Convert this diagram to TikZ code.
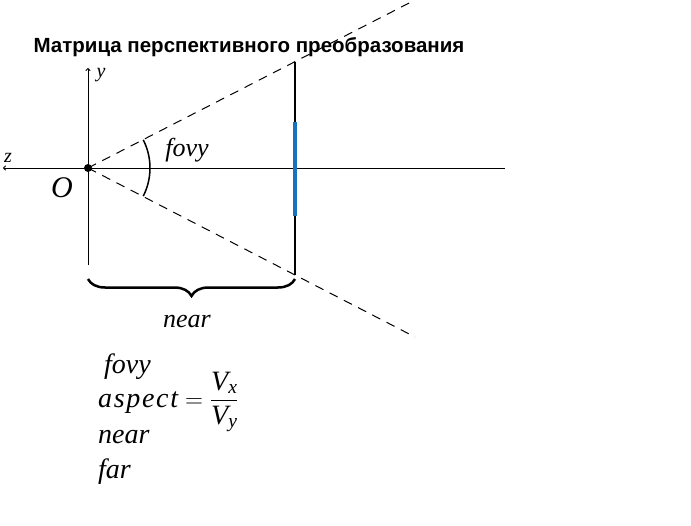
\documentclass[tikz,border=0pt]{standalone}
\usepackage{amsmath}
\usepackage{fontspec}
\setmainfont{Liberation Serif}
\newfontfamily\titlefont{Liberation Sans}
\usetikzlibrary{arrows.meta,decorations.pathreplacing}
\definecolor{blu}{RGB}{24,114,190}
\tikzstyle{ray}=[dash pattern=on 9pt off 7pt, line width=1pt]
\tikzstyle{axis}=[line width=0.9pt, -{To[length=3pt,width=5pt]}]
\tikzstyle{lbl}=[inner sep=0pt, font=\itshape\fontsize{26}{30}\selectfont]
\tikzstyle{param}=[inner sep=0pt, anchor=west, font=\itshape\fontsize{28}{32}\selectfont]
\tikzstyle{small lbl}=[inner sep=0pt, font=\itshape\fontsize{20}{24}\selectfont]

\begin{document}
\begin{tikzpicture}[x=1pt,y=1pt]
\useasboundingbox (-88,-357) rectangle (603,168);
\node[font=\titlefont\bfseries\fontsize{20.5}{24}\selectfont] (title) at (161,121) {Матрица перспективного преобразования};
\node[circle, fill, inner sep=0pt, minimum size=8pt] (O) at (0,0) {};
\coordinate (zl) at (-85,0);
\coordinate (zr) at (417,0);
\coordinate (yb) at (0,-97);
\coordinate (yt) at (0,100);
\coordinate (up) at (327,168);
\coordinate (dn) at (327,-169);
\coordinate (nt) at (207,106);
\coordinate (nb) at (207,-107);
\coordinate (bt) at (207,46);
\coordinate (bb) at (207,-48);
\coordinate (bl) at (0,-111);
\coordinate (br) at (207,-111);
% axes and frustum
\draw[axis] (zr) -- (zl);
\draw[axis] (yb) -- (yt);
\draw[ray] (O.center) -- (up);
\draw[ray] (O.center) -- (dn);
\draw[line width=2.5pt] (nt) -- (nb);
\draw[line width=4pt, blu] (bt) -- (bb);
\draw[line width=1.5pt] (-27:62) arc (-27:27:62);
\draw[decorate, decoration={brace, mirror, amplitude=17pt}, line width=2.5pt] (bl) -- (br);
% labels
\node[small lbl] (lz) at (-80,10) {z};
\node[small lbl] (ly) at (13,93) {y};
\node[lbl, font=\itshape\fontsize{30}{34}\selectfont] (lO) at (-26,-20) {O};
\node[lbl] (lfovy) at (99,18) {fovy};
\node[lbl] (lnear) at (99,-154) {near};
% parameters
\node[param] (pfovy) at (16,-199) {fovy};
\node[param] (paspect) at (10,-234) {{\addfontfeature{LetterSpace=6}aspect} $=\dfrac{\text{\itshape V}_{\text{\itshape x}}}{\text{\itshape V}_{\text{\itshape y}}}$};
\node[param] (pnear) at (10,-269) {near};
\node[param] (pfar) at (10,-304) {far};
\end{tikzpicture}
\end{document}
